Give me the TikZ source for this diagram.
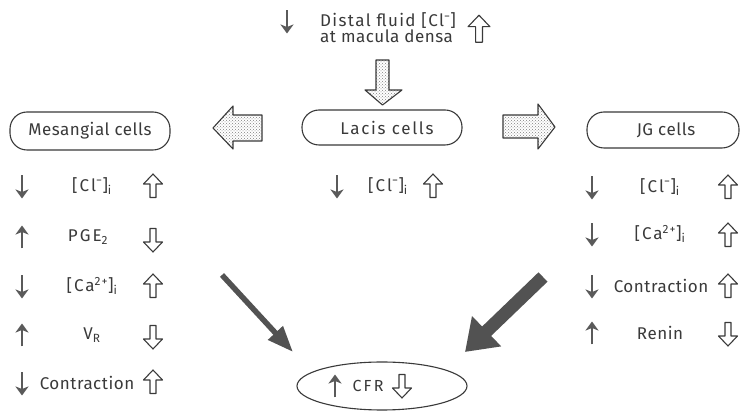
\documentclass[tikz,border=0pt]{standalone}
\usepackage{fontspec}
\setmainfont{Fira Sans}[LetterSpace=3]
\usetikzlibrary{arrows.meta,shapes.geometric,patterns}

\definecolor{ink}{HTML}{3A3A3A}
\definecolor{arrowgray}{HTML}{5A5A5A}
\definecolor{bigarrow}{HTML}{525252}

\tikzset{
  cellbox/.style={draw=ink, line width=1.1pt, rounded corners=17pt, inner sep=0pt,
    text=ink, font=\fontsize{17}{18}\selectfont},
  rowtext/.style={text=ink, inner sep=0pt, font=\fontsize{17}{18}\selectfont},
  wide/.style={font=\fontsize{17}{18}\selectfont\addfontfeature{LetterSpace=12}},
  thinarr/.style={draw=arrowgray, line width=1.6pt,
    -{Stealth[length=9pt,width=13pt,inset=2.5pt]}},
  hollowarr/.style={draw=ink, line width=1.1pt, fill=white, line join=round},
  blockarr/.style={draw=ink, line width=1.1pt, line join=round,
    pattern=crosshatch dots, pattern color=gray},
  pics/thindown/.style={code={\draw[thinarr] (0,-11.5) -- (0,11.5);}},
  pics/thinup/.style={code={\draw[thinarr] (0,11.5) -- (0,-11.5);}},
  pics/hollowup/.style={code={\draw[hollowarr] (0,-12) -- (9.5,-2) -- (3,-2) -- (3,11.5) -- (-3,11.5) -- (-3,-2) -- (-9.5,-2) -- cycle;}},
  pics/hollowdown/.style={code={\draw[hollowarr] (0,12) -- (9.5,2) -- (3,2) -- (3,-11.5) -- (-3,-11.5) -- (-3,2) -- (-9.5,2) -- cycle;}},
}

\begin{document}
\begin{tikzpicture}[x=1pt,y=-1pt]
\useasboundingbox (0,0) rectangle (740,419);
\fill[white] (0,0) rectangle (740,419);

% distal fluid at the top
\node[rowtext, anchor=base west] (distal1) at (320,27)
  {\addfontfeature{LetterSpace=8}Distal fluid [Cl\textsuperscript{−}]};
\node[rowtext, anchor=base west] (distal2) at (320,43) {at macula densa};
\pic at (287,22) {thindown};
\pic[scale=1.15] at (479,29) {hollowup};

% down block arrow into the lacis cells
\draw[blockarr] (376,60) -- (389,60) -- (389,90) -- (402,90) -- (382.5,105)
  -- (365,90) -- (376,90) -- cycle;

% the three cell boxes
\node[cellbox, minimum width=160pt, minimum height=38pt] (mes) at (90,131) {Mesangial cells};
\node[cellbox, minimum width=160pt, minimum height=35pt] (lacis) at (382,127.5)
  {\hspace{10pt}\addfontfeature{LetterSpace=10}Lacis cells};
\node[cellbox, minimum width=152pt, minimum height=36pt] (jg) at (663,130)
  {\hspace{6pt}JG cells};

% block arrows from lacis cells to either side
\draw[blockarr] (262,115) -- (262,141) -- (233,141) -- (233,149) -- (213,128)
  -- (233,106) -- (233,115) -- cycle;
\draw[blockarr] (503,115) -- (538,115) -- (538,104) -- (555,127) -- (538,149)
  -- (538,138) -- (503,138) -- cycle;

% mesangial cell column
\pic at (22,187) {thindown};
\node[rowtext, wide] (m1) at (92,186) {[Cl\textsuperscript{−}]\textsubscript{i}};
\pic at (153,186) {hollowup};

\pic at (22,237) {thinup};
\node[rowtext, wide] (m2) at (88,237) {PGE\textsubscript{2}};
\pic at (153,240) {hollowdown};

\pic at (22,287) {thindown};
\node[rowtext, wide] (m3) at (92,286) {[Ca\textsuperscript{2+}]\textsubscript{i}};
\pic at (153,286) {hollowup};

\pic at (22,335) {thinup};
\node[rowtext, wide] (m4) at (92,335) {V\textsubscript{R}};
\pic at (153,337) {hollowdown};

\pic at (22,384) {thindown};
\node[rowtext] (m5) at (87,383) {Contraction};
\pic at (153,382) {hollowup};

% lacis cell row
\pic at (337,187) {thindown};
\node[rowtext, wide] (l1) at (388,186) {[Cl\textsuperscript{−}]\textsubscript{i}};
\pic at (433,186) {hollowup};

% JG cell column
\pic at (592,188) {thindown};
\node[rowtext, wide] (j1) at (660,187) {[Cl\textsuperscript{−}]\textsubscript{i}};
\pic at (728,187) {hollowup};

\pic at (592,235) {thindown};
\node[rowtext, wide] (j2) at (660,234) {[Ca\textsuperscript{2+}]\textsubscript{i}};
\pic at (728,235) {hollowup};

\pic at (592,287) {thindown};
\node[rowtext] (j3) at (661,286) {Contraction};
\pic at (728,286) {hollowup};

\pic at (592,333) {thinup};
\node[rowtext] (j4) at (660,333) {Renin};
\pic at (728,334) {hollowdown};

% GFR outcome
\node[draw=ink, line width=1.1pt, ellipse, minimum width=170pt, minimum height=48pt,
  inner sep=0pt] (cfr) at (382,386) {};
\pic at (335,386) {thinup};
\node[rowtext, font=\fontsize{16}{18}\selectfont] (cfrtext) at (368,386)
  {\addfontfeature{LetterSpace=14}CFR};
\pic at (402,386) {hollowdown};

% converging arrows onto the GFR
\coordinate (lfrom) at (222,275);
\coordinate (lto) at (293,352);
\coordinate (rfrom) at (543,277);
\coordinate (rto) at (465,352);
\draw[bigarrow, line width=5.5pt, -{Triangle[length=26pt,width=19pt]}] (lfrom) -- (lto);
\draw[bigarrow, line width=13pt, -{Triangle[length=30pt,width=40pt]}] (rfrom) -- (rto);
\end{tikzpicture}
\end{document}
